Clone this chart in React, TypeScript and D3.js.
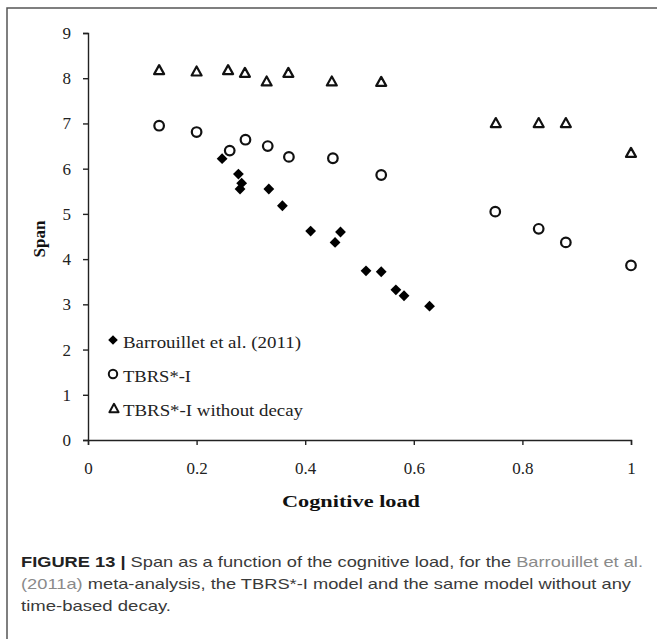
import React, { useEffect, useRef } from 'react';
import * as d3 from 'd3';

// Barrouillet et al. (2011) meta-analysis (filled diamonds)
const barrouilletLoad = [0.247, 0.277, 0.283, 0.28, 0.333, 0.358, 0.41, 0.455, 0.465, 0.512, 0.54, 0.567, 0.582, 0.629];
const barrouilletSpan = [6.22, 5.88, 5.68, 5.55, 5.55, 5.18, 4.62, 4.37, 4.6, 3.74, 3.72, 3.32, 3.19, 2.96];

// TBRS*-I model (open circles)
const tbrsLoad = [0.131, 0.2, 0.261, 0.29, 0.331, 0.37, 0.451, 0.54, 0.75, 0.83, 0.88, 1.0];
const tbrsSpan = [6.95, 6.81, 6.4, 6.64, 6.5, 6.26, 6.23, 5.86, 5.05, 4.67, 4.37, 3.86];

// TBRS*-I without decay (open triangles)
const noDecayLoad = [0.131, 0.2, 0.258, 0.289, 0.329, 0.369, 0.449, 0.54, 0.751, 0.83, 0.88, 1.0];
const noDecaySpan = [8.19, 8.16, 8.19, 8.13, 7.94, 8.13, 7.94, 7.93, 7.02, 7.02, 7.02, 6.36];

const xTicks = [0, 0.2, 0.4, 0.6, 0.8, 1];
const xTickLabels = ['0', '0.2', '0.4', '0.6', '0.8', '1'];
const yTicks = [0, 1, 2, 3, 4, 5, 6, 7, 8, 9];

const legendLabels = ['Barrouillet et al. (2011)', 'TBRS*-I', 'TBRS*-I without decay'];

const serif = '"Liberation Serif", "Times New Roman", serif';
const sans = '"Liberation Sans", Arial, sans-serif';

const diamond = (s: number) => `M0,${-s}L${s},0L0,${s}L${-s},0Z`;
const triangle = (s: number) => `M0,${-s * 0.9}L${s},${s * 0.9}L${-s},${s * 0.9}Z`;

const App: React.FC = () => {
  const xAxisRef = useRef<SVGGElement | null>(null);
  const yAxisRef = useRef<SVGGElement | null>(null);

  const x = d3.scaleLinear().domain([0, 1]).range([88, 631]);
  const y = d3.scaleLinear().domain([0, 9]).range([440, 33]);

  useEffect(() => {
    const xAxis = d3
      .axisBottom(x)
      .tickValues(xTicks)
      .tickFormat((d, i) => xTickLabels[i])
      .tickSize(5)
      .tickPadding(17);
    const yAxis = d3
      .axisLeft(y)
      .tickValues(yTicks)
      .tickFormat((d) => String(d))
      .tickSize(5)
      .tickPadding(12);

    const gx = d3.select(xAxisRef.current);
    gx.call(xAxis as any);
    const gy = d3.select(yAxisRef.current);
    gy.call(yAxis as any);

    [gx, gy].forEach((g) => {
      g.select('.domain').attr('stroke', '#222').attr('stroke-width', 1.4);
      g.selectAll('.tick line').attr('stroke', '#222').attr('stroke-width', 1.4);
      g.selectAll('.tick text')
        .attr('fill', '#222')
        .style('font-family', serif)
        .style('font-size', '17px');
    });
  }, []);

  return (
    <svg width={657} height={639} style={{ position: 'absolute', left: 0, top: 0, background: '#fff' }}>
      <rect x={7} y={8} width={700} height={700} fill="#fff" stroke="#555" strokeWidth={1.5} />

      <g ref={yAxisRef} transform={`translate(${x(0)},0)`} />
      <g ref={xAxisRef} transform={`translate(0,${y(0)})`} />

      {/* without decay */}
      {noDecayLoad.map((d, i) => (
        <path
          key={'t' + i}
          d={triangle(5)}
          transform={`translate(${x(d)},${y(noDecaySpan[i])})`}
          fill="none"
          stroke="#111"
          strokeWidth={2.2}
          strokeLinejoin="round"
        />
      ))}

      {/* TBRS*-I */}
      {tbrsLoad.map((d, i) => (
        <circle key={'c' + i} cx={x(d)} cy={y(tbrsSpan[i])} r={4.8} fill="none" stroke="#111" strokeWidth={2.2} />
      ))}

      {/* Barrouillet et al. */}
      {barrouilletLoad.map((d, i) => (
        <path key={'d' + i} d={diamond(5.4)} transform={`translate(${x(d)},${y(barrouilletSpan[i])})`} fill="#000" />
      ))}

      {/* legend */}
      <g fontFamily={serif} fontSize={16} fill="#222">
        <path d={diamond(4.8)} transform="translate(113,340)" fill="#000" />
        <text x={123} y={348} textLength={178} lengthAdjust="spacingAndGlyphs">{legendLabels[0]}</text>
        <circle cx={113} cy={374} r={4.2} fill="none" stroke="#111" strokeWidth={2} />
        <text x={123} y={382} textLength={68} lengthAdjust="spacingAndGlyphs">{legendLabels[1]}</text>
        <path d={triangle(4.6)} transform="translate(114,408)" fill="none" stroke="#111" strokeWidth={2} strokeLinejoin="round" />
        <text x={123} y={416} textLength={180} lengthAdjust="spacingAndGlyphs">{legendLabels[2]}</text>
      </g>

      {/* axis titles */}
      <text
        x={282}
        y={507}
        textLength={138}
        lengthAdjust="spacingAndGlyphs"
        fontFamily={serif}
        fontWeight="bold"
        fontSize={17.5}
        fill="#111"
      >
        Cognitive load
      </text>
      <text
        transform="translate(45,239) rotate(-90)"
        textAnchor="middle"
        fontFamily={serif}
        fontWeight="bold"
        fontSize={17}
        fill="#111"
      >
        Span
      </text>

      {/* caption */}
      <g fontFamily={sans} fontSize={15} fill="#3a3a3a">
        <text x={21} y={567} textLength={622} lengthAdjust="spacingAndGlyphs">
          <tspan fontWeight="bold" fill="#222">FIGURE 13 | </tspan>
          <tspan>Span as a function of the cognitive load, for the </tspan>
          <tspan fill="#8a8a8a">Barrouillet et al.</tspan>
        </text>
        <text x={21} y={589} textLength={610} lengthAdjust="spacingAndGlyphs">
          <tspan fill="#8a8a8a">(2011a)</tspan>
          <tspan> meta-analysis, the TBRS*-I model and the same model without any</tspan>
        </text>
        <text x={21} y={611} textLength={150} lengthAdjust="spacingAndGlyphs">
          time-based decay.
        </text>
      </g>
    </svg>
  );
};

export default App;
